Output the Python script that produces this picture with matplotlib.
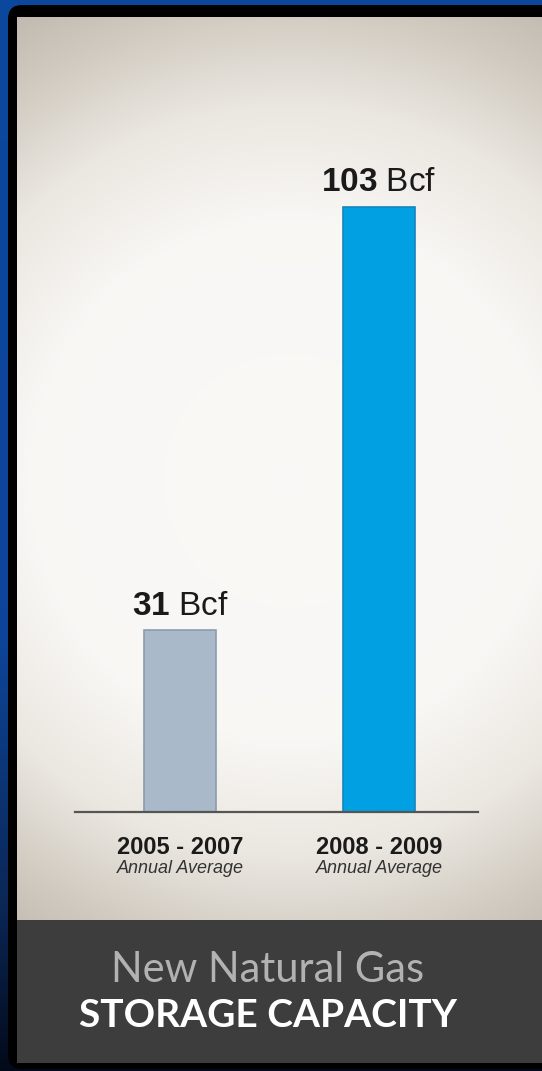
import numpy as np
import matplotlib
matplotlib.use("Agg")
from matplotlib import pyplot as plt
from matplotlib.patches import FancyBboxPatch, Rectangle

# chart values
periods = ["2005 - 2007", "2008 - 2009"]
subtitles = ["Annual Average", "Annual Average"]
capacity_bcf = [31, 103]
bar_colors = ["#a9b9c9", "#00a0e3"]
edge_colors = ["#8c9cac", "#1585bb"]
caption_top = "New Natural Gas"
caption_bottom = "STORAGE CAPACITY"

plt.rcParams['font.family'] = ['Liberation Sans', 'DejaVu Sans']
plt.rcParams['mathtext.fontset'] = 'custom'
plt.rcParams['mathtext.rm'] = 'Liberation Sans'
plt.rcParams['mathtext.bf'] = 'Liberation Sans:bold'

W, H = 542, 1071
fig = plt.figure(figsize=(W / 100, H / 100), dpi=100)

# ---- background / frame, drawn in pixel coords
bg = fig.add_axes([0, 0, 1, 1])
bg.set_xlim(0, W)
bg.set_ylim(H, 0)
bg.axis("off")

# blue vertical gradient on the outside
yy = np.linspace(0, 1, 256)
stops = [0.0, 0.6, 0.85, 1.0]
blue = np.array([[0.05, 0.28, 0.62], [0.05, 0.27, 0.60], [0.04, 0.15, 0.33], [0.01, 0.04, 0.10]])
col = np.stack([np.interp(yy, stops, blue[:, c]) for c in range(3)], axis=-1)
bg.imshow(col[:, None, :], extent=(0, W, H, 0), aspect="auto", zorder=0)

bg.add_patch(FancyBboxPatch((8, 5), 600, 1064, boxstyle="round,pad=0,rounding_size=14",
                            fc="black", ec="none", zorder=1))

# radial light panel
px = np.arange(17, W)
py = np.arange(17, 920)
X, Y = np.meshgrid(px, py)
t = np.sqrt(((X - 290) / 470.0) ** 2 + ((Y - 480) / 470.0) ** 2)
tstops = [0.0, 0.55, 0.8, 1.0, 1.25]
cols = np.array([[0.98, 0.975, 0.965], [0.975, 0.97, 0.96], [0.92, 0.905, 0.88],
                 [0.82, 0.795, 0.755], [0.71, 0.68, 0.64]])
img = np.stack([np.interp(t, tstops, cols[:, c]) for c in range(3)], axis=-1)
bg.imshow(img, extent=(17, W, 920, 17), aspect="auto", zorder=2)

# caption band
bg.add_patch(Rectangle((17, 920), W, 143, fc="#3d3d3d", ec="none", zorder=2))
bg.text(268, 982, caption_top, ha="center", va="baseline", fontsize=30,
        family="Lato", color="#b2b2b2", zorder=3)
bg.text(268, 1027, caption_bottom, ha="center", va="baseline", fontsize=28,
        family="Lato", fontweight="bold", color="white", zorder=3)

# ---- the bar chart
ax = fig.add_axes([75 / W, (H - 812) / H, 403 / W, (812 - 148) / H])
ax.set_facecolor("none")
x = np.arange(len(periods))
ax.bar(x, capacity_bcf, width=0.362, color=bar_colors, edgecolor=edge_colors, linewidth=1.2, zorder=2)
ax.set_xlim(-0.528, 1.497)
ax.set_ylim(0, 113)

for s in ["top", "right", "left"]:
    ax.spines[s].set_visible(False)
ax.spines["bottom"].set_color("#555555")
ax.spines["bottom"].set_linewidth(1.6)
ax.spines["bottom"].set_zorder(3)
ax.set_yticks([])
ax.set_xticks([])

for xi, v in zip(x, capacity_bcf):
    ax.annotate(r"$\mathbf{%d}$ Bcf" % v, (xi, v), xytext=(0, 11), textcoords="offset points",
                ha="center", va="baseline", fontsize=24, color="#1a1a1a")

for xi, p, s in zip(x, periods, subtitles):
    ax.annotate(p, (xi, 0), xycoords=("data", "axes fraction"), xytext=(0, -30),
                textcoords="offset points", ha="center", va="baseline", fontsize=17,
                fontweight="bold", color="#1a1a1a")
    ax.annotate(s, (xi, 0), xycoords=("data", "axes fraction"), xytext=(0, -44),
                textcoords="offset points", ha="center", va="baseline", fontsize=13,
                style="italic", color="#333333")

fig.savefig("out.png", dpi=100)
